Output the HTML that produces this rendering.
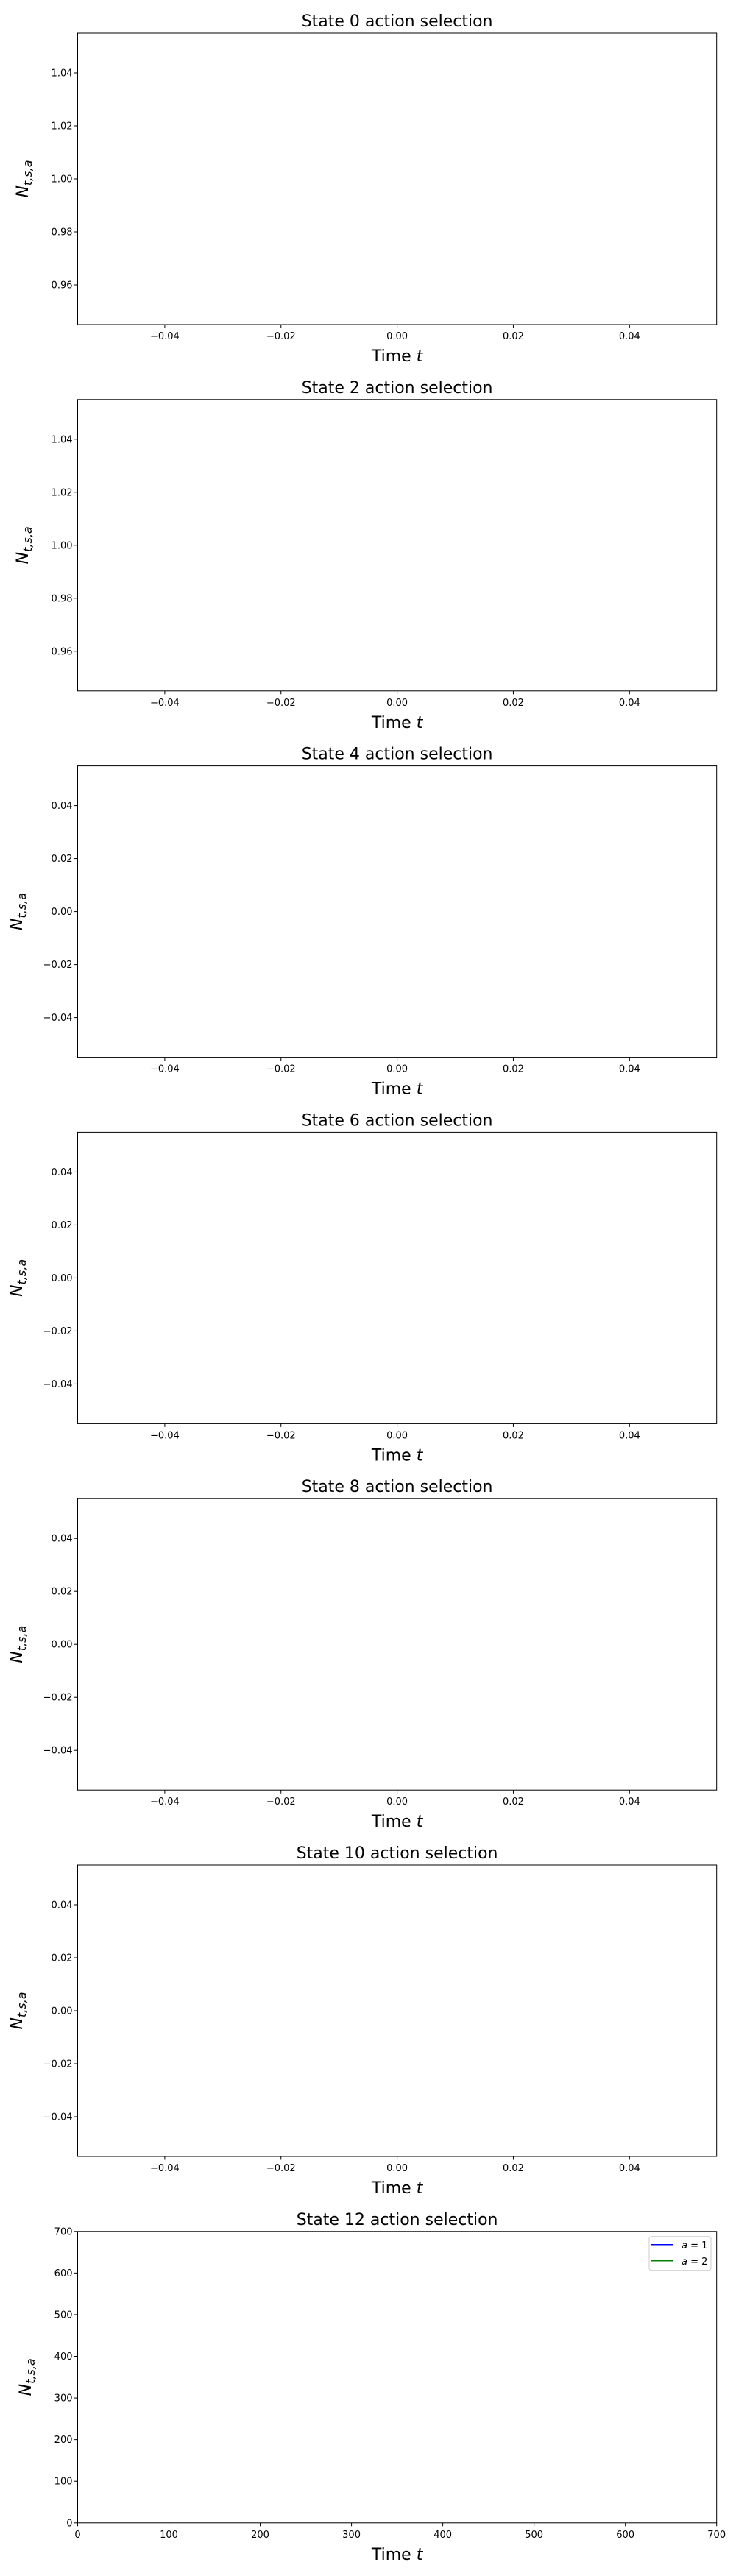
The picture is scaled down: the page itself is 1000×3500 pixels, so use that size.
<!DOCTYPE html>
<html><head><meta charset="utf-8"><style>
html,body{margin:0;padding:0;background:#fff;}
svg{display:block;}
text{font-family:"DejaVu Sans","Liberation Sans",sans-serif;fill:#000;}
</style></head><body>
<svg id="fig" width="1000" height="3500" viewBox="0 0 1000 3500" xmlns="http://www.w3.org/2000/svg"></svg>
<script>
const stateIds = [0, 2, 4, 6, 8, 10, 12];
const yTicksOne = [0.96, 0.98, 1.00, 1.02, 1.04];
const yTicksZero = [-0.04, -0.02, 0.00, 0.02, 0.04];
const xTicksEmpty = [-0.04, -0.02, 0.00, 0.02, 0.04];
const xTicksTime = [0, 100, 200, 300, 400, 500, 600, 700];
const yTicksCount = [0, 100, 200, 300, 400, 500, 600, 700];
const legendLabels = ['a = 1', 'a = 2'];
const legendColors = ['#0000ff', '#008000'];
const series1 = [];
const series2 = [];

const NS = 'http://www.w3.org/2000/svg';
const svg = document.getElementById('fig');
function mk(tag, attrs, parent, txt) {
  const e = document.createElementNS(NS, tag);
  for (const k in attrs) e.setAttribute(k, attrs[k]);
  if (txt !== undefined) e.textContent = txt;
  (parent || svg).appendChild(e);
  return e;
}
const L = 105.5, R = 973.7, H = 396, period = 497.8, top0 = 45;

stateIds.forEach((s, i) => {
  const top = top0 + i * period, bot = top + H;
  const g = mk('g', {});
  
  
  let xmin, xmax, ymin, ymax, xt, yt, fmtX, fmtY, ylx;
  if (i === 6) { xmin = 0; xmax = 700; ymin = 0; ymax = 700; xt = xTicksTime; yt = yTicksCount; fmtX = v => String(v); fmtY = v => String(v); ylx = 42; }
  else {
    xmin = -0.055; xmax = 0.055; xt = xTicksEmpty;
    fmtX = v => (v < 0 ? '\u2212' : '') + Math.abs(v).toFixed(2);
    fmtY = fmtX;
    if (i < 2) { ymin = 0.945; ymax = 1.055; yt = yTicksOne; ylx = 38; }
    else { ymin = -0.055; ymax = 0.055; yt = yTicksZero; ylx = 30; }
  }
  const xs = v => L + (v - xmin) / (xmax - xmin) * (R - L);
  const ys = v => bot - (v - ymin) / (ymax - ymin) * H;
  const title = mk('text', {x: (L + R) / 2, y: top - 9, 'text-anchor': 'middle', 'font-size': 22}, g, 'State ' + s + ' action selection');
  
  
  xt.forEach(v => {
    const x = xs(v);
    mk('line', {x1: x, x2: x, y1: bot, y2: bot + 4.5, stroke: '#000', 'stroke-width': 1}, g);
    const t = mk('text', {x: x, y: bot + 20, 'text-anchor': 'middle', 'font-size': 13}, g, fmtX(v));
    
    
  });
  yt.forEach(v => {
    const y = ys(v);
    mk('line', {x1: L - 4.5, x2: L, y1: y, y2: y, stroke: '#000', 'stroke-width': 1}, g);
    const t = mk('text', {x: L - 7, y: y + 4.5, 'text-anchor': 'end', 'font-size': 13}, g, fmtY(v));
    
    
  });
  const xl = mk('text', {x: (L + R) / 2, y: bot + 50, 'text-anchor': 'middle', 'font-size': 22}, g);
  
  
  mk('tspan', {}, xl, 'Time ');
  mk('tspan', {'font-style': 'italic'}, xl, 't');
  const cy = top + H / 2;
  const yl = mk('text', {x: ylx, y: cy, 'text-anchor': 'middle', 'font-size': 22, transform: 'rotate(-90 ' + ylx + ' ' + cy + ')'}, g);
  
  
  mk('tspan', {'font-style': 'italic'}, yl, 'N');
  mk('tspan', {'font-style': 'italic', 'font-size': 16, dy: 5}, yl, 't,s,a');
  if (i === 6) {
    [series1, series2].forEach((ser, k) => {
      if (ser.length) {
        const p = mk('polyline', {points: ser.map((v, j) => xs(j) + ',' + ys(v)).join(' '), fill: 'none', stroke: legendColors[k], 'stroke-width': 1.5}, g);
        
        
      }
    });
    const lg = mk('g', {}, g);
    
    
    mk('rect', {x: 882, y: top + 7, width: 84, height: 46, rx: 3, fill: '#fff', stroke: '#ccc', 'stroke-width': 1}, lg);
    legendLabels.forEach((lab, k) => {
      const y = top + 18 + k * 22;
      const e = mk('g', {}, lg);
      
      
      mk('line', {x1: 885, x2: 915, y1: y, y2: y, stroke: legendColors[k], 'stroke-width': 1.5}, e);
      const t = mk('text', {x: 926, y: y + 5, 'font-size': 13}, e);
      mk('tspan', {'font-style': 'italic'}, t, 'a');
      mk('tspan', {}, t, ' = ' + (k + 1));
    });
  }
  const fr = mk('rect', {x: L, y: top, width: R - L, height: H, fill: 'none', stroke: '#000', 'stroke-width': 1}, g);
  
  
});
</script>
</body></html>
